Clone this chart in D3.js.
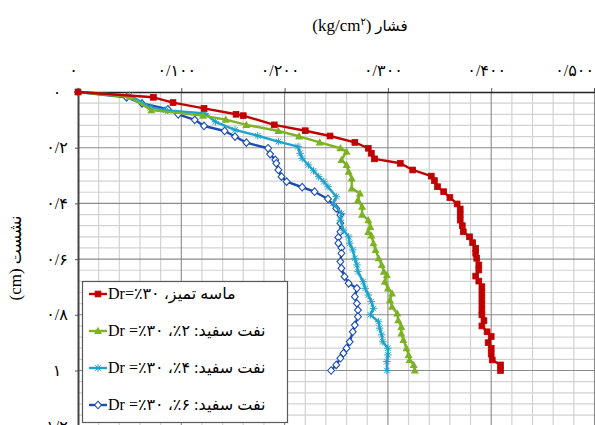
<!DOCTYPE html>
<html>
<head>
<meta charset="utf-8">
<script src="https://cdn.jsdelivr.net/npm/d3@7/dist/d3.min.js"></script>
<style>
  html, body { margin: 0; padding: 0; background: #fff; overflow: hidden; }
  svg { display: block; }
  text { font-family: "Liberation Serif", "DejaVu Sans", serif; fill: #000; }
</style>
</head>
<body>
<svg id="chart" width="595" height="425"></svg>
<script>
// Pressure (kg/cm²) vs settlement (cm) readings for each test
const cleanSand = [
  [0,0],[0.073,0.019],[0.092,0.038],[0.122,0.059],[0.153,0.080],[0.160,0.085],[0.190,0.118],
  [0.220,0.139],[0.244,0.158],[0.268,0.181],[0.281,0.202],[0.284,0.220],[0.287,0.240],
  [0.312,0.256],[0.324,0.280],[0.342,0.302],[0.345,0.318],[0.348,0.340],[0.354,0.358],
  [0.360,0.379],[0.367,0.402],[0.370,0.420],[0.370,0.440],[0.370,0.460],[0.372,0.480],
  [0.373,0.502],[0.379,0.520],[0.382,0.541],[0.385,0.561],[0.385,0.579],[0.386,0.597],
  [0.388,0.621],[0.388,0.639],[0.385,0.661],[0.388,0.679],[0.391,0.699],[0.391,0.720],
  [0.391,0.742],[0.391,0.762],[0.391,0.783],[0.391,0.800],[0.393,0.821],[0.391,0.840],
  [0.396,0.861],[0.400,0.878],[0.397,0.900],[0.400,0.920],[0.400,0.941],[0.401,0.962],
  [0.409,0.980],[0.409,1.000]
];
const kerosene2 = [
  [0,0],[0.050,0.018],[0.071,0.065],[0.121,0.085],[0.143,0.099],[0.163,0.118],[0.194,0.140],
  [0.214,0.159],[0.234,0.181],[0.254,0.202],[0.260,0.214],[0.255,0.244],[0.260,0.262],
  [0.262,0.286],[0.265,0.310],[0.265,0.346],[0.273,0.364],[0.271,0.388],[0.275,0.412],
  [0.275,0.440],[0.281,0.460],[0.283,0.484],[0.281,0.502],[0.284,0.515],[0.286,0.543],
  [0.288,0.567],[0.291,0.597],[0.294,0.621],[0.296,0.645],[0.299,0.657],[0.297,0.681],
  [0.300,0.705],[0.304,0.723],[0.302,0.747],[0.304,0.771],[0.309,0.795],[0.310,0.819],
  [0.313,0.843],[0.313,0.867],[0.315,0.890],[0.318,0.920],[0.320,0.944],[0.321,0.962],
  [0.325,0.980],[0.326,1.000]
];
const kerosene4 = [
  [0,0],[0.050,0.012],[0.070,0.055],[0.085,0.065],[0.123,0.077],[0.133,0.107],[0.152,0.136],
  [0.174,0.157],[0.194,0.178],[0.213,0.196],[0.215,0.220],[0.217,0.238],[0.223,0.262],
  [0.228,0.283],[0.233,0.304],[0.238,0.322],[0.242,0.340],[0.250,0.376],[0.247,0.400],
  [0.255,0.436],[0.254,0.460],[0.257,0.496],[0.262,0.520],[0.263,0.543],[0.266,0.567],
  [0.268,0.597],[0.270,0.621],[0.271,0.645],[0.276,0.681],[0.278,0.705],[0.281,0.729],
  [0.284,0.753],[0.286,0.777],[0.283,0.800],[0.291,0.825],[0.292,0.848],[0.294,0.872],
  [0.295,0.897],[0.300,0.920],[0.300,0.944],[0.299,0.968],[0.299,1.000]
];
const kerosene6 = [
  [0,0],[0.047,0.019],[0.062,0.041],[0.087,0.062],[0.097,0.080],[0.113,0.100],[0.122,0.122],
  [0.142,0.140],[0.152,0.160],[0.163,0.182],[0.184,0.202],[0.186,0.223],[0.191,0.244],
  [0.192,0.256],[0.194,0.280],[0.197,0.304],[0.202,0.322],[0.217,0.342],[0.229,0.358],
  [0.242,0.384],[0.250,0.418],[0.254,0.442],[0.254,0.471],[0.254,0.502],[0.252,0.522],
  [0.252,0.543],[0.255,0.560],[0.255,0.579],[0.254,0.609],[0.255,0.633],[0.258,0.663],
  [0.262,0.687],[0.270,0.705],[0.268,0.735],[0.270,0.759],[0.271,0.783],[0.271,0.807],
  [0.268,0.837],[0.266,0.861],[0.263,0.897],[0.260,0.920],[0.257,0.938],[0.254,0.956],
  [0.250,0.980],[0.245,1.000]
];
const seriesNames = [
  "ماسه تمیز، ۳۰٪=Dr",
  "نفت سفید: ۲٪، ۳۰٪= Dr",
  "نفت سفید: ۴٪، ۳۰٪= Dr",
  "نفت سفید: ۶٪، ۳۰٪= Dr"
];
const pressureTicks = [0, 0.1, 0.2, 0.3, 0.4, 0.5];
const pressureTickLabels = ["۰", "۰/۱۰۰", "۰/۲۰۰", "۰/۳۰۰", "۰/۴۰۰", "۰/۵۰۰"];
const settlementTicks = [0, 0.2, 0.4, 0.6, 0.8, 1.0, 1.2];
const settlementTickLabels = ["۰", "۰/۲", "۰/۴", "۰/۶", "۰/۸", "۱", "۱/۲"];

const W = 595, H = 425;
const svg = d3.select("#chart");
svg.append("rect").attr("width", W).attr("height", H).attr("fill", "#fff");

const x = d3.scaleLinear().domain([0, 0.5]).range([78, 594.5]);
const y = d3.scaleLinear().domain([0, 1.2]).range([92, 426.2]);

// grid: minor every 0.02 / 0.04, major on the labelled ticks
const grid = svg.append("g");
const xMinor = d3.range(0, 0.5001, 0.02).filter(v => Math.abs(v * 10 - Math.round(v * 10)) > 1e-6);
const yMinor = d3.range(0, 1.2001, 0.04).filter(v => Math.abs(v * 5 - Math.round(v * 5)) > 1e-6);
grid.selectAll(".xm").data(xMinor).join("line")
  .attr("x1", d => x(d)).attr("x2", d => x(d)).attr("y1", y(0)).attr("y2", H)
  .attr("stroke", "#d2d2d2").attr("stroke-width", 1.2);
grid.selectAll(".ym").data(yMinor).join("line")
  .attr("x1", x(0)).attr("x2", W).attr("y1", d => y(d)).attr("y2", d => y(d))
  .attr("stroke", "#d2d2d2").attr("stroke-width", 1.2);
grid.selectAll(".xM").data(pressureTicks.slice(1)).join("line")
  .attr("x1", d => x(d)).attr("x2", d => x(d)).attr("y1", y(0)).attr("y2", H)
  .attr("stroke", "#8a8a8a").attr("stroke-width", 1.1);
grid.selectAll(".yM").data(settlementTicks.slice(1)).join("line")
  .attr("x1", x(0)).attr("x2", W).attr("y1", d => y(d)).attr("y2", d => y(d))
  .attr("stroke", "#8a8a8a").attr("stroke-width", 1.1);

// axes
const xAxis = d3.axisTop(x).tickValues(pressureTicks).tickSize(4).tickPadding(12)
  .tickFormat((d, i) => pressureTickLabels[i]);
const gx = svg.append("g").attr("transform", `translate(0,${y(0)})`).call(xAxis);
gx.select(".domain").attr("stroke", "#222").attr("stroke-width", 1.6);
gx.selectAll(".tick line").attr("stroke", "#555");
gx.selectAll(".tick text").attr("font-size", 16).attr("dx", -5)
  .style("letter-spacing", "1.2px")
  .style("font-family", "'Liberation Serif','DejaVu Sans',serif");
// keep the last label inside the frame
gx.selectAll(".tick text").each(function () {
  const b = this.getBBox();
  const tr = this.parentNode.transform.baseVal.consolidate().matrix.e;
  const right = tr + b.x + b.width;
  if (right > W - 1) d3.select(this).attr("dx", -5 - (right - W + 1));
});

const yAxis = d3.axisLeft(y).tickValues(settlementTicks).tickSize(3).tickPadding(12)
  .tickFormat((d, i) => settlementTickLabels[i]);
const gy = svg.append("g").attr("transform", `translate(${x(0)},0)`).call(yAxis);
gy.select(".domain").attr("stroke", "#444").attr("stroke-width", 2);
gy.selectAll(".tick line").attr("stroke", "#555");
gy.selectAll(".tick text").attr("font-size", 16).attr("text-anchor", "middle").attr("x", -21)
  .style("letter-spacing", "1.2px")
  .style("font-family", "'Liberation Serif','DejaVu Sans',serif");

// axis titles
const xTitle = svg.append("text").attr("x", 360).attr("y", 31).attr("text-anchor", "middle")
  .attr("font-size", 17).attr("direction", "ltr");
xTitle.append("tspan").text("(kg/cm");
xTitle.append("tspan").text("۲").attr("font-size", 10).attr("dy", -6);
xTitle.append("tspan").text(")").attr("dy", 6);
xTitle.append("tspan").text(" فشار").attr("font-size", 15);

const yTitle = svg.append("text").attr("transform", "translate(21,258) rotate(-90)")
  .attr("text-anchor", "middle").attr("font-size", 17).attr("direction", "ltr");
yTitle.append("tspan").text("(cm) ");
yTitle.append("tspan").text("نشست").attr("font-size", 16);

// series
const styles = [
  { color: "#c00000", marker: "square" },
  { color: "#7db223", marker: "triangle" },
  { color: "#1fa2cc", marker: "star" },
  { color: "#1c4db3", marker: "diamond" }
];
const allSeries = [cleanSand, kerosene2, kerosene4, kerosene6];

function drawMarker(g, type, color) {
  if (type === "square") {
    g.append("rect").attr("x", -2.9).attr("y", -2.9).attr("width", 5.8).attr("height", 5.8)
      .attr("fill", color).attr("stroke", color).attr("stroke-width", 0.8);
  } else if (type === "triangle") {
    g.append("path").attr("d", "M0,-4.2L4,3.1L-4,3.1Z").attr("fill", color);
  } else if (type === "star") {
    g.append("path").attr("d", "M-3.8,0H3.8M0,-3.8V3.8M-2.8,-2.8L2.8,2.8M-2.8,2.8L2.8,-2.8")
      .attr("stroke", color).attr("stroke-width", 1).attr("fill", "none");
  } else {
    g.append("path").attr("d", "M0,-3.8L3.4,0L0,3.8L-3.4,0Z")
      .attr("fill", "#fff").attr("stroke", color).attr("stroke-width", 1.1);
  }
}

const line = d3.line().x(d => x(d[0])).y(d => y(d[1]));
const plot = svg.append("g");
// draw the last series first so the clean-sand curve sits on top
[3, 2, 1, 0].forEach(i => {
  const data = allSeries[i], st = styles[i];
  plot.append("path").datum(data).attr("d", line)
    .attr("fill", "none").attr("stroke", st.color).attr("stroke-width", 2.4)
    .attr("stroke-linejoin", "round");
  plot.append("g").selectAll("g").data(data).join("g")
    .attr("transform", d => `translate(${x(d[0])},${y(d[1])})`)
    .each(function () { drawMarker(d3.select(this), st.marker, st.color); });
});

// legend
const lg = svg.append("g");
lg.append("rect").attr("x", 82.5).attr("y", 281.5).attr("width", 205).attr("height", 141)
  .attr("fill", "#fff").attr("stroke", "#5a5a5a").attr("stroke-width", 1.2);
const legendRows = [294, 331, 368, 405];
seriesNames.forEach((name, i) => {
  const row = lg.append("g").attr("transform", `translate(0,${legendRows[i]})`);
  row.append("line").attr("x1", 89).attr("x2", 107).attr("y1", 0).attr("y2", 0)
    .attr("stroke", styles[i].color).attr("stroke-width", 2.4);
  drawMarker(row.append("g").attr("transform", "translate(98,0)"), styles[i].marker, styles[i].color);
  row.append("text").attr("x", 108).attr("y", 5).attr("font-size", 16)
    .attr("direction", "rtl").style("unicode-bidi", "embed").attr("text-anchor", "end")
    .text(name);
});
</script>
</body>
</html>
